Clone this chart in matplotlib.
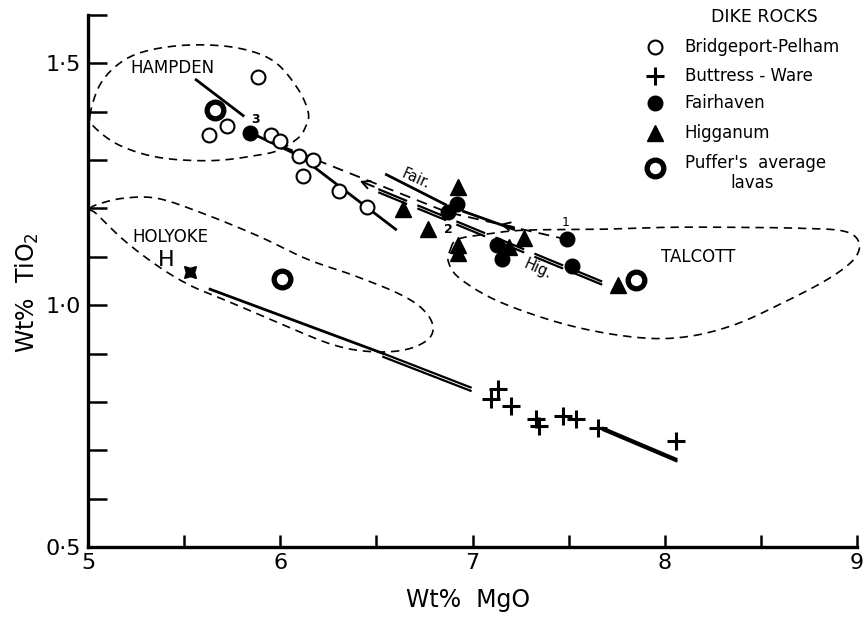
import numpy as np
import matplotlib
matplotlib.use('Agg')
import matplotlib.pyplot as plt

plt.rcParams['font.family'] = ['DejaVu Sans']

# ---------------- data (Wt% MgO, Wt% TiO2) ----------------
bp_mgo = [5.630, 5.724, 5.885, 5.953, 6.000, 6.099, 6.172, 6.120, 6.307, 6.453]
bp_tio2 = [1.351, 1.371, 1.472, 1.351, 1.340, 1.309, 1.301, 1.268, 1.237, 1.204]

bw_mgo = [7.094, 7.135, 7.198, 7.328, 7.344, 7.469, 7.536, 7.651, 8.057]
bw_tio2 = [0.807, 0.826, 0.791, 0.764, 0.750, 0.770, 0.764, 0.746, 0.719]

fh_mgo = [5.844, 6.917, 6.870, 7.130, 7.156, 7.490, 7.516]
fh_tio2 = [1.355, 1.210, 1.192, 1.124, 1.095, 1.136, 1.082]

hg_mgo = [6.922, 6.641, 6.771, 6.922, 6.922, 7.188, 7.266, 7.755]
hg_tio2 = [1.245, 1.198, 1.157, 1.124, 1.107, 1.120, 1.138, 1.041]

pf_mgo = [5.661, 6.010, 7.849]
pf_tio2 = [1.403, 1.054, 1.052]

holyoke_mgo = [5.531]
holyoke_tio2 = [1.068]

# field outlines
hampden_mgo = [5.010, 5.0625, 5.167, 5.307, 5.531, 5.776, 5.964, 6.089, 6.146, 6.130,
               6.094, 6.000, 5.896, 5.651, 5.375, 5.167, 5.036]
hampden_tio2 = [1.392, 1.456, 1.501, 1.526, 1.538, 1.532, 1.505, 1.449, 1.398, 1.367,
                1.346, 1.322, 1.311, 1.299, 1.305, 1.330, 1.367]

holyoke_f_mgo = [5.010, 5.047, 5.182, 5.359, 5.583, 5.880, 6.141, 6.365, 6.599, 6.729,
                 6.792, 6.771, 6.651, 6.469, 6.260, 5.948, 5.740, 5.531, 5.359, 5.182, 5.047]
holyoke_f_tio2 = [1.198, 1.208, 1.221, 1.221, 1.192, 1.144, 1.095, 1.064, 1.027, 0.996,
                  0.961, 0.930, 0.908, 0.904, 0.920, 0.971, 1.006, 1.041, 1.082, 1.136, 1.188]

talcott_mgo = [6.885, 6.922, 7.057, 7.266, 7.667, 8.016, 8.359, 8.708, 8.932, 9.010,
               8.984, 8.849, 8.620, 8.359, 8.099, 7.839, 7.495, 7.146, 6.938, 6.875]
talcott_tio2 = [1.115, 1.136, 1.146, 1.155, 1.157, 1.161, 1.161, 1.159, 1.153, 1.130,
                1.095, 1.054, 1.006, 0.959, 0.934, 0.934, 0.959, 1.006, 1.054, 1.089]

# trend lines
hampden_line_mgo = [5.5625, 5.807]
hampden_line_tio2 = [1.466, 1.392]
bp_line_mgo = [5.87, 6.099, 6.60]
bp_line_tio2 = [1.352, 1.309, 1.157]
fair_path_mgo = [7.49, 6.87, 5.844]      # 1 -> 2 -> 3
fair_path_tio2 = [1.136, 1.192, 1.355]
fair_line_mgo = [6.552, 6.859, 6.953, 7.214]
fair_line_tio2 = [1.270, 1.208, 1.194, 1.157]
hig_line_mgo = [6.51, 7.71]
hig_line_tio2 = [1.240, 1.043]
bw_line1_mgo = [5.635, 6.536]
bw_line1_tio2 = [1.033, 0.900]
bw_line2_mgo = [6.536, 6.99]
bw_line2_tio2 = [0.900, 0.830]
bw_line3_mgo = [7.68, 8.06]
bw_line3_tio2 = [0.746, 0.682]

x_ticks = [5, 6, 7, 8, 9]
x_ticklabels = ['5', '6', '7', '8', '9']
y_ticks = [0.5, 1.0, 1.5]
y_ticklabels = ['0·5', '1·0', '1·5']


def closed_spline(xs, ys, n=20):
    px = np.asarray(xs, float)
    py = np.asarray(ys, float)
    m = len(px)
    outx, outy = [], []
    t = np.linspace(0, 1, n, endpoint=False)
    for i in range(m):
        p0 = np.array([px[i - 1], py[i - 1]])
        p1 = np.array([px[i], py[i]])
        p2 = np.array([px[(i + 1) % m], py[(i + 1) % m]])
        p3 = np.array([px[(i + 2) % m], py[(i + 2) % m]])
        for tt in t:
            t2, t3 = tt * tt, tt * tt * tt
            pt = 0.5 * ((2 * p1) + (-p0 + p2) * tt + (2 * p0 - 5 * p1 + 4 * p2 - p3) * t2
                        + (-p0 + 3 * p1 - 3 * p2 + p3) * t3)
            outx.append(pt[0])
            outy.append(pt[1])
    outx.append(outx[0])
    outy.append(outy[0])
    return outx, outy


fig = plt.figure(figsize=(8.64, 6.18), dpi=100)
ax = fig.add_axes([88 / 864, 71 / 618, 769 / 864, 532 / 618])
ax.set_xlim(5, 9)
ax.set_ylim(0.5, 1.6)

for s in ['top', 'right']:
    ax.spines[s].set_visible(False)
for s in ['left', 'bottom']:
    ax.spines[s].set_linewidth(2.4)

ax.set_xticks(x_ticks)
ax.set_xticklabels(x_ticklabels)
ax.set_xticks(np.arange(5.5, 9, 1.0), minor=True)
ax.set_yticks(y_ticks)
ax.set_yticklabels(y_ticklabels)
ax.set_yticks([0.6, 0.7, 0.8, 0.9, 1.1, 1.2, 1.3, 1.4, 1.6], minor=True)
ax.tick_params(axis='x', which='both', direction='in', length=9, width=1.8,
               labelsize=16, pad=4)
ax.tick_params(axis='y', which='both', direction='in', length=14, width=1.8,
               labelsize=16, pad=5)

# axis titles
ax.text((468 - 88) / 769, (547 - 600) / 532, 'Wt%  MgO', transform=ax.transAxes,
        fontsize=17, ha='center', va='center')
ax.text(-(88 - 27) / 769, (547 - 293) / 532, 'Wt%  TiO$_2$', transform=ax.transAxes,
        fontsize=17, ha='center', va='center', rotation=90)

dash = (0, (5, 3.5))
for fx, fy in [(hampden_mgo, hampden_tio2), (holyoke_f_mgo, holyoke_f_tio2),
               (talcott_mgo, talcott_tio2)]:
    sx, sy = closed_spline(fx, fy)
    ax.plot(sx, sy, color='black', lw=1.2, linestyle=dash, clip_on=False, zorder=1)

# trend lines
ax.plot(hampden_line_mgo, hampden_line_tio2, color='black', lw=2.0, zorder=2)
ax.plot(bp_line_mgo, bp_line_tio2, color='black', lw=2.0, zorder=2)
ax.plot(fair_path_mgo, fair_path_tio2, color='black', lw=1.3, linestyle=(0, (6, 4)), zorder=2)
ax.plot(fair_line_mgo[:2], fair_line_tio2[:2], color='black', lw=2.0, zorder=2)
ax.plot(fair_line_mgo[2:], fair_line_tio2[2:], color='black', lw=2.0, zorder=2)
for off in (0.0, -0.0065):
    ax.plot(hig_line_mgo, [v + off for v in hig_line_tio2], color='black', lw=1.6,
            linestyle=(0, (14, 5)), zorder=2)
ax.plot(bw_line1_mgo, bw_line1_tio2, color='black', lw=2.0, zorder=2)
for off in (0.0, -0.007):
    ax.plot(bw_line2_mgo, [v + off for v in bw_line2_tio2], color='black', lw=1.6, zorder=2)
    ax.plot(bw_line3_mgo, [v + off * 0.6 for v in bw_line3_tio2], color='black', lw=1.8, zorder=2)

# arrow heads on the Fairhaven path
for (x0, y0, x1, y1) in [(6.50, 1.243, 6.40, 1.259), (7.23, 1.160, 7.13, 1.169)]:
    ax.annotate('', xy=(x1, y1), xytext=(x0, y0),
                arrowprops=dict(arrowstyle='->', lw=1.4, mutation_scale=14, color='black'),
                zorder=3)

# points
ax.plot(bp_mgo, bp_tio2, 'o', ms=10, mfc='white', mec='black', mew=1.5, zorder=4)
ax.plot(bw_mgo, bw_tio2, '+', ms=13, mec='black', mew=2.2, zorder=4)
ax.plot(fh_mgo, fh_tio2, 'o', ms=10.5, mfc='black', mec='black', zorder=4)
ax.plot(hg_mgo, hg_tio2, '^', ms=11, mfc='black', mec='black', zorder=4)
ax.plot(pf_mgo, pf_tio2, 'o', ms=12, mfc='white', mec='black', mew=3.8, zorder=5)
ax.plot(holyoke_mgo, holyoke_tio2, marker=(4, 1, 45), ms=12, color='black', linestyle='none', zorder=5)

# labels on the plot
ax.text(5.4375, 1.491, 'HAMPDEN', fontsize=12, ha='center', va='center')
ax.text(5.427, 1.140, 'HOLYOKE', fontsize=12, ha='center', va='center')
ax.text(5.405, 1.093, 'H', fontsize=16, ha='center', va='center')
ax.text(8.172, 1.099, 'TALCOTT', fontsize=12, ha='center', va='center')
ax.text(5.872, 1.384, '3', fontsize=9, fontweight='bold', ha='center', va='center')
ax.text(6.875, 1.157, '2', fontsize=9, fontweight='bold', ha='center', va='center')
ax.text(7.484, 1.171, '1', fontsize=9, ha='center', va='center')
ax.text(6.708, 1.262, 'Fair.', fontsize=10.5, ha='center', va='center', rotation=-24)
ax.text(7.339, 1.074, 'Hig.', fontsize=10.5, ha='center', va='center', rotation=-24)

# legend (drawn manually)
T = ax.transAxes
ax.text(0.879, 0.996, 'DIKE ROCKS', transform=T, fontsize=12.5, ha='center', va='center')
mx, tx = 0.737, 0.776
rows = [0.940, 0.885, 0.835, 0.778, 0.712]
ax.plot([mx], [rows[0]], 'o', ms=10, mfc='white', mec='black', mew=1.5, transform=T, clip_on=False)
ax.plot([mx], [rows[1]], '+', ms=13, mec='black', mew=2.2, transform=T, clip_on=False)
ax.plot([mx], [rows[2]], 'o', ms=10.5, color='black', transform=T, clip_on=False)
ax.plot([mx], [rows[3]], '^', ms=11, color='black', transform=T, clip_on=False)
ax.plot([mx], [rows[4]], 'o', ms=12, mfc='white', mec='black', mew=3.8, transform=T, clip_on=False)
ax.text(tx, rows[0], 'Bridgeport-Pelham', transform=T, fontsize=12, va='center')
ax.text(tx, rows[1], 'Buttress - Ware', transform=T, fontsize=12, va='center')
ax.text(tx, rows[2], 'Fairhaven', transform=T, fontsize=12, va='center')
ax.text(tx, rows[3], 'Higganum', transform=T, fontsize=12, va='center')
ax.text(tx, 0.722, "Puffer's  average", transform=T, fontsize=12, va='center')
ax.text(0.863, 0.684, 'lavas', transform=T, fontsize=12, va='center', ha='center')

fig.savefig('out.png', dpi=100)
